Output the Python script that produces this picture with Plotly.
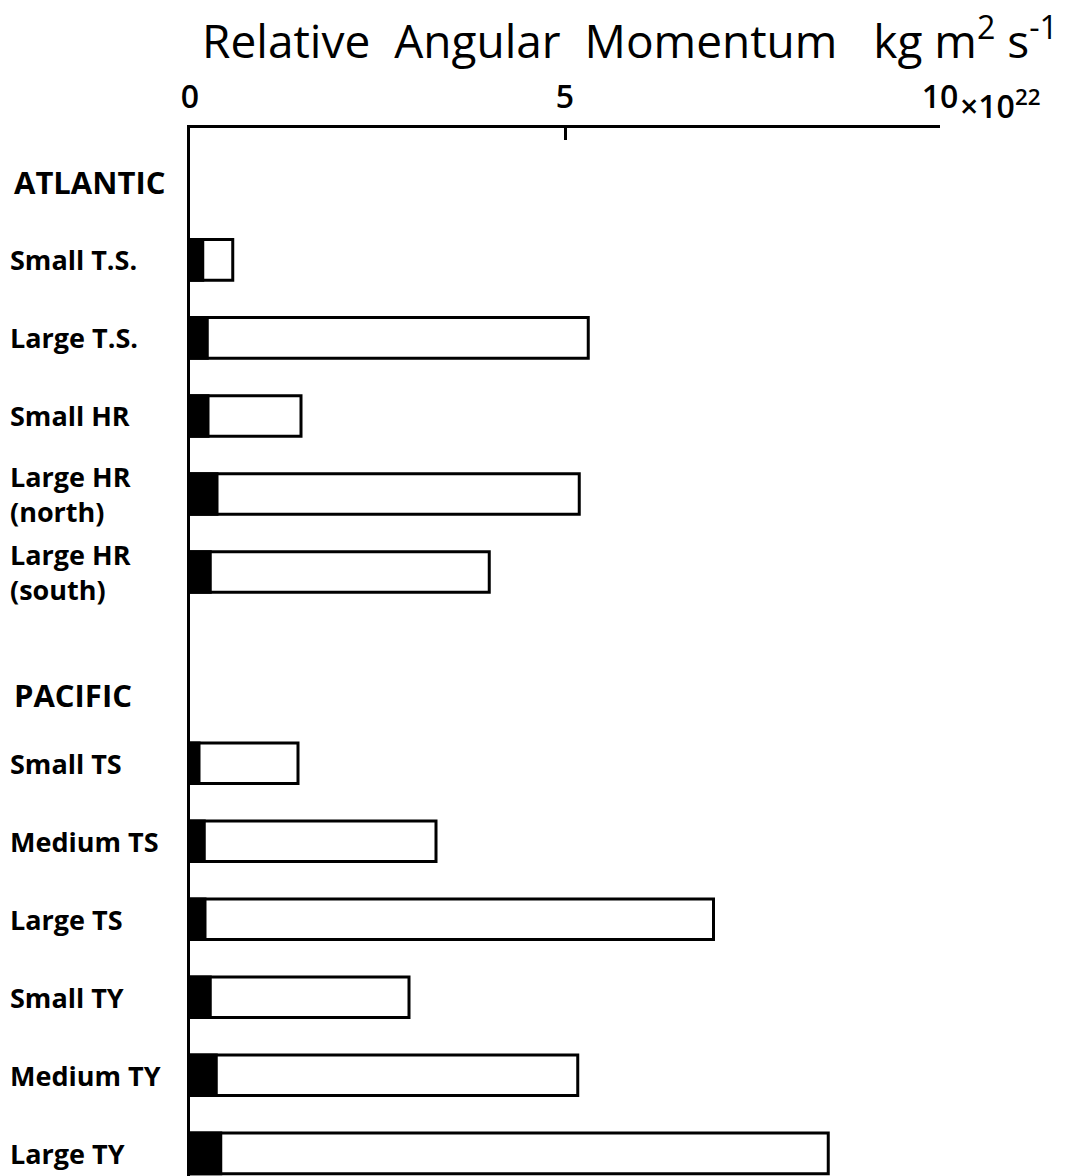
import plotly.graph_objects as go

# Relative angular momentum (units of 1e22 kg m^2 s^-1)
atlantic_labels = ["Small T.S.", "Large T.S.", "Small HR", "Large HR<br>(north)", "Large HR<br>(south)"]
atlantic_total = [0.57, 5.31, 1.48, 5.19, 3.99]
atlantic_inner = [0.17, 0.23, 0.24, 0.36, 0.27]

pacific_labels = ["Small TS", "Medium TS", "Large TS", "Small TY", "Medium TY", "Large TY"]
pacific_total = [1.44, 3.28, 6.98, 2.92, 5.17, 8.51]
pacific_inner = [0.12, 0.19, 0.20, 0.27, 0.35, 0.41]

group_titles = ["ATLANTIC", "PACIFIC"]
x_ticks = [0, 5, 10]
x_tick_text = ["0", "5", "10"]

# row layout: each group is listed below its heading
atl_rows = [i for i in range(len(atlantic_labels))]
pac_start = 6.45
pac_rows = [pac_start + i for i in range(len(pacific_labels))]
heading_rows = [-1.0, 5.58]

labels = atlantic_labels + pacific_labels
totals = atlantic_total + pacific_total
inner = atlantic_inner + pacific_inner
rows = atl_rows + pac_rows

FONT = "Open Sans"
BAR_W = 0.52

fig = go.Figure()
fig.add_trace(go.Bar(
    x=totals, y=rows, orientation="h", width=BAR_W,
    marker=dict(color="white", line=dict(color="black", width=3)),
    hoverinfo="x+y", showlegend=False,
))
fig.add_trace(go.Bar(
    x=inner, y=rows, orientation="h", width=BAR_W,
    marker=dict(color="black", line=dict(color="black", width=3)),
    hoverinfo="x+y", showlegend=False,
))

annotations = []
for lab, r in zip(labels, rows):
    annotations.append(dict(
        text=lab, x=-0.243, xref="paper", y=r, yref="y",
        xanchor="left", yanchor="middle", align="left", showarrow=False,
        font=dict(family=FONT, size=27, color="black", weight=700),
    ))
for t, r in zip(group_titles, heading_rows):
    annotations.append(dict(
        text=t, x=-0.238, xref="paper", y=r, yref="y",
        xanchor="left", yanchor="middle", showarrow=False,
        font=dict(family=FONT, size=31, color="black", weight=700),
    ))
# exponent beside the last tick label
annotations.append(dict(
    text="\u00d710<sup>22</sup>", x=10, xref="x", y=1, yref="paper",
    xanchor="left", yanchor="middle", xshift=18, yshift=24, showarrow=False,
    font=dict(family=FONT, size=32, color="black", weight=600),
))

fig.update_layout(
    width=1071, height=1176,
    margin=dict(l=190, r=131, t=128, b=0),
    paper_bgcolor="white", plot_bgcolor="white",
    barmode="overlay",
    title=dict(
        text="Relative  Angular  Momentum   kg m<sup>2</sup> s<sup>-1</sup>",
        x=630 / 1071, xref="container", xanchor="center",
        y=1 - 42 / 1176, yref="container", yanchor="middle",
        font=dict(family=FONT, size=46, color="black", weight=500),
    ),
    xaxis=dict(
        side="top", range=[0, 10], tickvals=x_ticks, ticktext=x_tick_text,
        ticks="inside", ticklen=12, tickwidth=3, tickcolor="black",
        showline=True, linewidth=3, linecolor="black",
        showgrid=False, zeroline=False, ticklabelstandoff=4,
        tickfont=dict(family=FONT, size=32, color="black", weight=600),
    ),
    yaxis=dict(
        range=[11.74, -1.69], showticklabels=False, ticks="",
        showline=True, linewidth=3, linecolor="black",
        showgrid=False, zeroline=False,
    ),
    annotations=annotations,
)

fig.write_html("out.html")
